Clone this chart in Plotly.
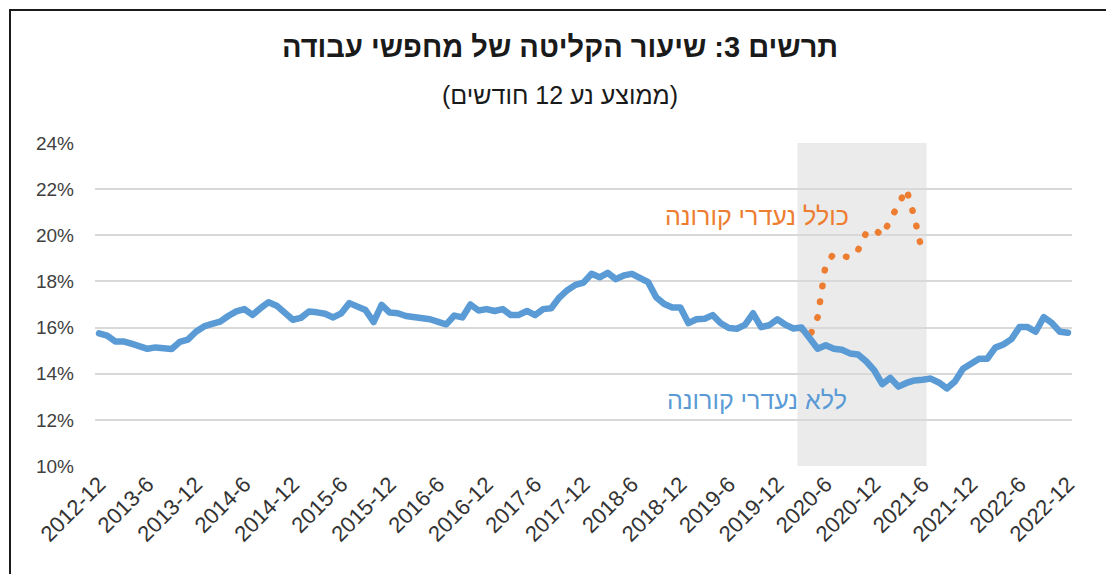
import plotly.graph_objects as go

# ---- data ----
months = []
y, m = 2012, 12
for _ in range(121):
    months.append(f"{y}-{m}")
    m += 1
    if m > 12:
        m = 1
        y += 1

without_corona = [
    15.75, 15.65, 15.40, 15.40, 15.30, 15.22, 15.08, 15.14, 15.08, 15.07, 15.38, 15.48,
    15.82, 16.05, 16.16, 16.26, 16.50, 16.70, 16.80, 16.55, 16.84, 17.10, 16.95, 16.60,
    16.34, 16.42, 16.70, 16.66, 16.60, 16.44, 16.62, 17.06, 16.92, 16.76, 16.24, 16.98,
    16.65, 16.62, 16.50, 16.47, 16.45, 16.36, 16.25, 16.14, 16.52, 16.44, 17.00, 16.74,
    16.80, 16.72, 16.80, 16.54, 16.55, 16.72, 16.54, 16.80, 16.84, 17.30, 17.62, 17.85,
    17.95, 18.33, 18.18, 18.37, 18.10, 18.26, 18.33, 18.18, 17.97, 17.31, 17.02, 16.87,
    16.87, 16.19, 16.36, 16.38, 16.54, 16.19, 15.98, 15.95, 16.12, 16.62, 16.02, 16.10,
    16.36, 16.12, 15.96, 16.00, 15.49, 15.08, 15.23, 15.08, 15.04, 14.88, 14.83, 14.54,
    14.15, 13.55, 13.82, 13.44, 13.60, 13.71, 13.74, 13.79, 13.62, 13.36, 13.66, 14.21,
    14.43, 14.65, 14.65, 15.13, 15.27, 15.50, 16.02, 16.02, 15.82, 16.45, 16.20, 15.82, 15.78,
]

corona_months = months[months.index("2020-3"):months.index("2021-6") + 1]
with_corona = [15.95, 15.60, 16.45, 18.75, 19.20, 19.10, 19.03, 19.36,
               20.10, 20.27, 19.98, 20.67, 21.40, 22.00, 20.76, 19.20]

tick_months = months[::6]
y_ticks = [10, 12, 14, 16, 18, 20, 22, 24]
y_ticktext = [f"{v}%" for v in y_ticks]

title_text = "תרשים 3: שיעור הקליטה של מחפשי עבודה"
subtitle_text = "(ממוצע נע 12 חודשים)"
label_with = "כולל נעדרי קורונה"
label_without = "ללא נעדרי קורונה"

BLUE = "#5B9BD5"
ORANGE = "#ED7D31"
FONT = "Liberation Sans, Arial, sans-serif"

fig = go.Figure()
fig.add_trace(go.Scatter(
    x=corona_months, y=with_corona, mode="lines",
    line=dict(color=ORANGE, width=6.5, dash="0.5px,15.5px"),
    hoverinfo="skip", showlegend=False,
))
fig.add_trace(go.Scatter(
    x=months, y=without_corona, mode="lines",
    line=dict(color=BLUE, width=6.5),
    hoverinfo="skip", showlegend=False,
))

band_start = months.index("2020-3") - 0.5
band_end = months.index("2021-6") + 0.5
fig.add_shape(type="rect", xref="x", yref="paper", x0=band_start, x1=band_end,
              y0=0, y1=1, fillcolor="#EBEBEB", line=dict(width=0), layer="below")

# outer chart frame (left and top edges)
fig.add_shape(type="line", xref="paper", yref="paper", xsizemode="pixel", ysizemode="pixel",
              xanchor=0, yanchor=1, x0=-85, x1=-85, y0=133, y1=-440,
              line=dict(color="#1a1a1a", width=2))
fig.add_shape(type="line", xref="paper", yref="paper", xsizemode="pixel", ysizemode="pixel",
              xanchor=0, yanchor=1, x0=-86, x1=1020, y0=133, y1=133,
              line=dict(color="#1a1a1a", width=2))

fig.add_annotation(text=f"<b>{title_text}</b>", xref="paper", yref="paper",
                   x=0.476, y=1.297, showarrow=False, xanchor="center", yanchor="middle",
                   font=dict(family=FONT, size=29, color="#1a1a1a"))
fig.add_annotation(text=subtitle_text, xref="paper", yref="paper",
                   x=0.476, y=1.149, showarrow=False, xanchor="center", yanchor="middle",
                   font=dict(family=FONT, size=25, color="#1a1a1a"))
fig.add_annotation(text=label_with, xref="paper", yref="y",
                   x=0.6776, y=20.82, showarrow=False, xanchor="center", yanchor="middle",
                   font=dict(family=FONT, size=25, color=ORANGE))
fig.add_annotation(text=label_without, xref="paper", yref="y",
                   x=0.6776, y=12.86, showarrow=False, xanchor="center", yanchor="middle",
                   font=dict(family=FONT, size=25, color=BLUE))

fig.update_layout(
    width=1106, height=574, autosize=False,
    margin=dict(l=95, r=34, t=143, b=108),
    paper_bgcolor="white", plot_bgcolor="white",
    font=dict(family=FONT, size=18, color="#404040"),
)
fig.update_xaxes(
    type="category", categoryorder="array", categoryarray=months,
    range=[-0.5, len(months) - 0.5],
    tickmode="array", tickvals=tick_months, ticktext=tick_months,
    tickangle=-45, showgrid=False, showline=False, ticks="", zeroline=False,
    tickfont=dict(family=FONT, size=22, color="#333333"),
)
fig.update_yaxes(
    range=[10, 24], tickmode="array", tickvals=y_ticks, ticktext=y_ticktext,
    showgrid=True, gridcolor="#D9D9D9", gridwidth=1.5, zeroline=False, showline=False,
    ticks="", ticklabelstandoff=20,
    tickfont=dict(family=FONT, size=19, color="#404040"),
)

post = ("document.body.style.margin='0';document.body.style.padding='0';"
        "var gd=document.getElementById('{plot_id}');"
        "function fixcaps(){gd.querySelectorAll('path.js-line').forEach(function(p){"
        "p.style.strokeLinecap='round';p.style.strokeLinejoin='round';});}"
        "fixcaps(); if(gd.on){gd.on('plotly_afterplot', fixcaps);}")
fig.write_html("out.html", post_script=post, config={"displayModeBar": False})
